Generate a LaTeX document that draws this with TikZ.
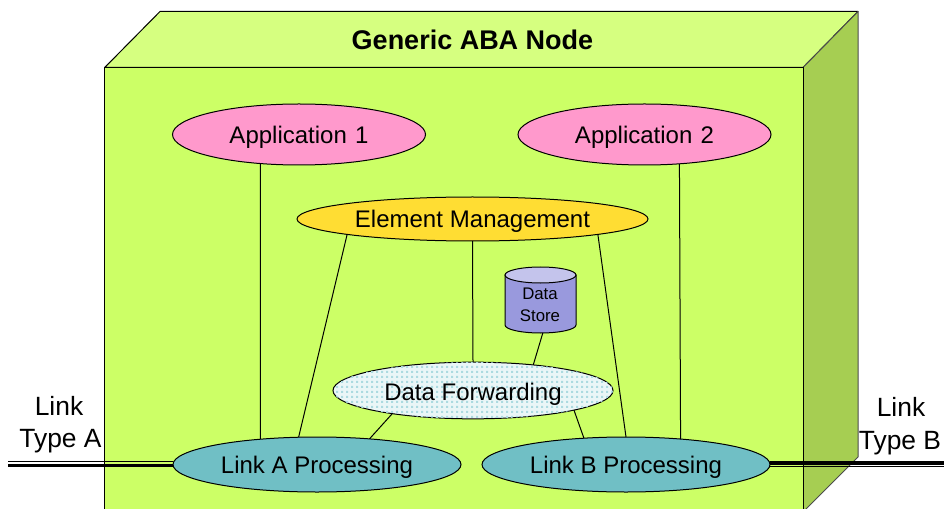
\documentclass[tikz,border=0pt]{standalone}
\usepackage{fontspec}
\setmainfont{Liberation Sans}
\usetikzlibrary{shapes.geometric,patterns}
\definecolor{frontc}{HTML}{CCFF66}
\definecolor{topc}{HTML}{D6FF80}
\definecolor{sidec}{HTML}{A6CE52}
\definecolor{appc}{HTML}{FF99CC}
\definecolor{emc}{HTML}{FFDD33}
\definecolor{linkc}{HTML}{70BFC5}
\definecolor{storec}{HTML}{9999DD}
\definecolor{storetop}{HTML}{C4C4EC}
\definecolor{dotc}{HTML}{ACDAE0}
\definecolor{dfbg}{HTML}{EAF6F7}
\pgfdeclarepatternformonly{softdots}{\pgfqpoint{0pt}{0pt}}{\pgfqpoint{3.75pt}{3.75pt}}{\pgfqpoint{3.75pt}{3.75pt}}{%
  \pgfpathrectangle{\pgfqpoint{1pt}{1pt}}{\pgfqpoint{1.75pt}{1.75pt}}\pgfusepath{fill}}
\tikzset{
  x=0.75pt,y=-0.75pt,
  oval/.style={ellipse,draw=black,line width=0.75pt,inner sep=0pt,outer sep=0pt,font=\fontsize{18}{20}\selectfont,
    text height=13pt,text depth=0.2pt,minimum width=#1*0.75pt},
  conn/.style={draw=black,line width=0.75pt},
  face/.style={draw=black,line width=0.75pt,line join=round},
  lab/.style={font=\fontsize{18}{20}\selectfont,inner sep=0pt,outer sep=0pt,anchor=base},
  bigl/.style={lab,font=\fontsize{19.8}{22}\selectfont},
}
\begin{document}
\begin{tikzpicture}
\clip (0,0) rectangle (944,509);
% box
\path[face,fill=topc] (104.7,67.5) -- (160,11.5) -- (858,11.5) -- (803,67.5) -- cycle;
\path[face,fill=sidec,draw=black!70] (803,67.5) -- (858,11.5) -- (858,457) -- (803,512) -- cycle;
\path[face,fill=frontc] (104.7,67.5) rectangle (803,520);
\node[bigl,font=\fontsize{20.25}{22}\selectfont\bfseries] (title) at (472.5,49.5) {Generic ABA Node};
% nodes
\coordinate (la) at (8,464.5);
\coordinate (ra) at (944,464.5);
\node[oval=253,minimum height=45.75pt,fill=appc] (app1) at (299,134.5) {Application\ \kern1.2pt 1};
\node[oval=253,minimum height=45.75pt,fill=appc] (app2) at (644.5,134.5) {Application\ \kern1.2pt 2};
\node[oval=351,minimum height=33pt,fill=emc] (em) at (472.5,219) {Element\ \kern0.2pt Management};
\node[oval=280,minimum height=42.5pt,fill=dfbg,postaction={pattern=softdots,pattern color=dotc}] (df) at (473,390.5) {};
\node[lab] (dft) at (473,400) {Data Forwarding};
\node[oval=288,minimum height=41.25pt,fill=linkc] (lka) at (317,464.5) {Link A Processing};
\node[oval=288,minimum height=41.25pt,fill=linkc] (lkb) at (626,464.5) {Link B Processing};
% data store drawn as a cylinder behind its named node
\path[draw=black,line width=0.75pt,fill=storec] (505,275) -- (505,325) arc[start angle=180,end angle=360,x radius=35.5,y radius=-8] -- (576,275) -- cycle;
\path[draw=black,line width=0.75pt,fill=storetop] (540.5,275) ellipse[x radius=35.5,y radius=8];
\node[inner sep=0pt,outer sep=0pt,minimum width=53.25pt,minimum height=49.5pt] (store) at (540.5,300) {};
\node[lab,font=\fontsize{12.6}{16}\selectfont] (st1) at (540,299) {Data};
\node[lab,font=\fontsize{12.6}{16}\selectfont] (st2) at (540,321) {Store};
% connectors
\path[conn] (app1.217.1) -- (lka.156.1);
\path[conn] (app2.-40) -- (lkb.25.3);
\path[conn] (em.187.45) -- (lka.124.9);
\path[conn] (em.south) -- (df.north);
\path[conn] (em.-7.2) -- (lkb.north);
\path[conn] (store.-86) -- (df.23.6);
\path[conn] (df.196.3) -- (lka.26.7);
\path[conn] (df.-11.5) -- (lkb.148);
% link lines
\path[draw=black,line width=0.75pt] ([yshift=1.9pt]la) -- ([yshift=1.9pt]lka.west);
\path[draw=black,line width=2.6pt] ([yshift=-0.75pt]la) -- ([yshift=-0.75pt]lka.west);
\path[draw=black,line width=2.6pt] ([yshift=1.1pt]ra) -- ([yshift=1.1pt]lkb.east);
\path[draw=black,line width=0.75pt] ([yshift=-1.7pt]ra) -- ([yshift=-1.7pt]lkb.east);
% labels
\node[bigl] (la1) at (59,415) {Link};
\node[bigl] (la2) at (60.5,447) {Type A};
\node[bigl] (lb1) at (901,416) {Link};
\node[bigl] (lb2) at (900,449) {Type B};
\end{tikzpicture}
\end{document}
